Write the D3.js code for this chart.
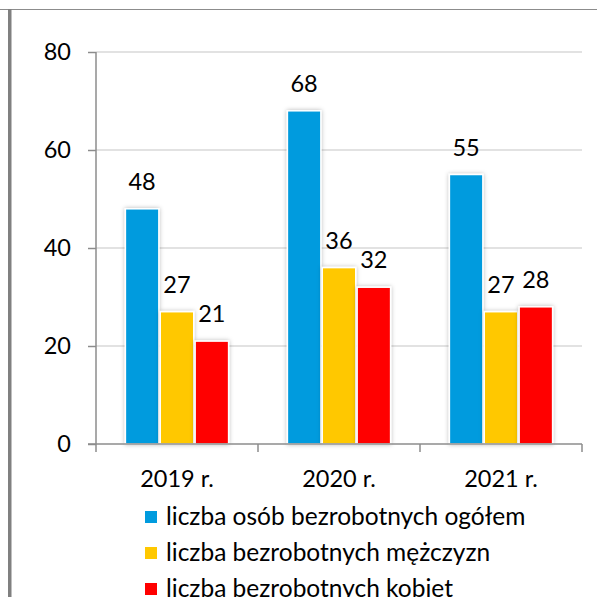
<!DOCTYPE html>
<html><head><meta charset="utf-8">
<script src="https://cdn.jsdelivr.net/npm/d3@7"></script>
<style>body{margin:0;background:#fff;}svg{display:block;font-family:Lato,"Open Sans",sans-serif;}</style>
</head><body>
<script>
const categories = ["2019 r.", "2020 r.", "2021 r."];
const seriesNames = ["liczba osób bezrobotnych ogółem", "liczba bezrobotnych mężczyzn", "liczba bezrobotnych kobiet"];
const ogolem = [48, 68, 55];
const mezczyzn = [27, 36, 27];
const kobiet = [21, 32, 28];
const yTicks = [0, 20, 40, 60, 80];
const colors = ["#009BDE", "#FFC800", "#FF0000"];

const series = [ogolem, mezczyzn, kobiet];
const W = 597, H = 597;
const FS = 23.5;
const svg = d3.select("body").append("svg").attr("width", W).attr("height", H);

const defs = svg.append("defs");
const f = defs.append("filter").attr("id","sh").attr("x","-30%").attr("y","-10%").attr("width","160%").attr("height","130%");
f.append("feDropShadow").attr("dx",0).attr("dy",0).attr("stdDeviation",2.2).attr("flood-color","#000").attr("flood-opacity",0.28);

// frame
svg.append("line").attr("x1",0).attr("x2",W).attr("y1",9.5).attr("y2",9.5).attr("stroke","#8c8c8c").attr("stroke-width",1.2);
svg.append("rect").attr("x",8).attr("y",9).attr("width",3.5).attr("height",H-9).attr("fill","#808080");

const x0 = d3.scaleBand().domain(categories).range([96, 582]).paddingInner(0).paddingOuter(0);
const x1 = d3.scaleBand().domain(d3.range(series.length)).range([28, 162-28]).padding(0.04);
const y = d3.scaleLinear().domain([0, 80]).range([444, 52]);

// grid
svg.append("g").selectAll("line").data(yTicks.filter(d=>d>0)).join("line")
  .attr("x1",96).attr("x2",582).attr("y1",d=>y(d)).attr("y2",d=>y(d))
  .attr("stroke","#d9d9d9").attr("stroke-width",1.5);

// y axis
const yAxis = d3.axisLeft(y).tickValues(yTicks).tickSize(8).tickPadding(17);
const gy = svg.append("g").attr("transform","translate(96,0)").call(yAxis);
gy.select(".domain").attr("stroke","#8c8c8c").attr("stroke-width",1.5).attr("d","M0,"+y(80)+"V"+y(0));
gy.selectAll(".tick line").attr("stroke","#8c8c8c").attr("stroke-width",1.5);
gy.selectAll("text").attr("font-size",FS).attr("fill","#000").attr("font-family","Lato");

// bars
const gBars = svg.append("g");
categories.forEach((c, ci) => {
  series.forEach((s, si) => {
    const bx = x0(c) + x1(si);
    gBars.append("rect").attr("x", bx).attr("y", y(s[ci])).attr("width", x1.bandwidth())
      .attr("height", y(0) - y(s[ci])).attr("fill", colors[si])
      .attr("stroke","#fff").attr("stroke-width",1.5).attr("filter","url(#sh)");
  });
});

// x axis
const xAxisLine = svg.append("g");
xAxisLine.append("line").attr("x1",88).attr("x2",582).attr("y1",y(0)).attr("y2",y(0)).attr("stroke","#8c8c8c").attr("stroke-width",1.5);
const xb = [96, ...categories.map(c => x0(c) + x0.bandwidth())];
xAxisLine.selectAll("line.t").data(xb).join("line").attr("class","t")
  .attr("x1",d=>d).attr("x2",d=>d).attr("y1",y(0)).attr("y2",y(0)+8).attr("stroke","#8c8c8c").attr("stroke-width",1.5);
svg.append("g").selectAll("text").data(categories).join("text")
  .attr("x", d => x0(d) + x0.bandwidth()/2).attr("y", 487).attr("text-anchor","middle")
  .attr("font-size",FS).text(d=>d);

// labels
categories.forEach((c, ci) => {
  series.forEach((s, si) => {
    svg.append("text").attr("x", x0(c) + x1(si) + x1.bandwidth()/2).attr("y", y(s[ci]) - 19)
      .attr("text-anchor","middle").attr("font-size",FS).text(s[ci]);
  });
});

// legend
const lg = svg.append("g");
seriesNames.forEach((n, i) => {
  const cy = 517 + i*36;
  lg.append("rect").attr("x",145).attr("y",cy-6).attr("width",12).attr("height",12).attr("fill",colors[i]);
  lg.append("text").attr("x",166).attr("y",cy+8).attr("font-size",24.5).text(n);
});
</script>
</body></html>
